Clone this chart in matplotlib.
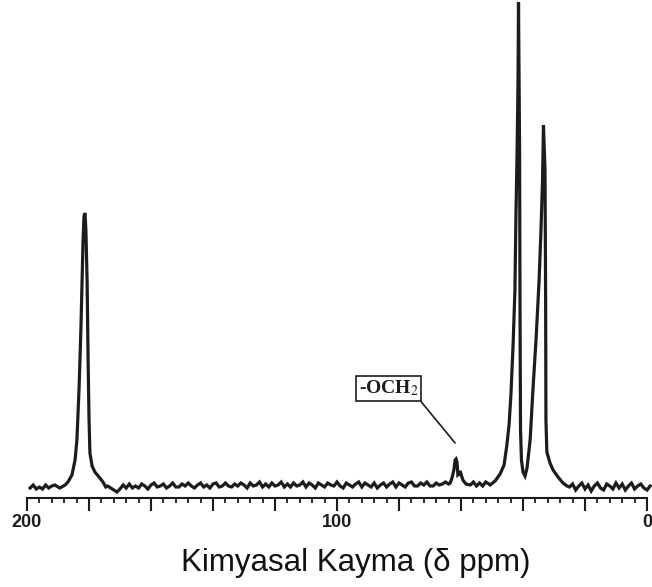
import matplotlib
matplotlib.use("Agg")
import matplotlib.pyplot as plt
import numpy as np

plt.rcParams['font.family'] = ['Liberation Sans', 'DejaVu Sans']
plt.rcParams['mathtext.fontset'] = 'stix'

INK = '#1c1c1c'

# baseline stretches, one reading per ppm going downfield -> upfield
base_1_start = 199
base_1 = [10, 13, 9, 11, 9, 13, 10, 12, 13, 11]

base_2_start = 174
base_2 = [12, 10, 8, 6, 9, 13, 10, 14, 10, 12,
          10, 14, 12, 9, 13, 15, 11, 12, 14, 10,
          12, 15, 11, 11, 14, 12, 15, 12, 10, 13,
          15, 11, 13, 10, 14, 15, 11, 12, 15, 12,
          11, 14, 12, 15, 13, 10, 15, 12, 13, 16,
          11, 14, 11, 15, 12, 13, 16, 11, 14, 11,
          15, 12, 13, 16, 11, 15, 13, 10, 15, 13,
          11, 15, 13, 12, 16, 12, 10, 15, 13, 11,
          14, 16, 11, 15, 13, 11, 15, 10, 13, 15,
          11, 14, 16, 11, 15, 13, 11, 15, 16, 12,
          12, 15, 13, 16, 12, 12, 15, 13, 14, 16, 14]

base_3_start = 57
base_3 = [13, 16, 12, 15, 12, 16, 14]

base_4_start = 25
base_4 = [11, 14, 8, 12, 15, 9, 13, 7, 12, 15, 10, 8, 14, 12,
          9, 15, 10, 14, 8, 12, 15, 9, 12, 14, 10, 8, 12]

# C=O peak
co_ppm = [189.4, 187.7, 186.8, 185.5, 184.5, 183.9, 183.2, 182.6, 182.2,
          181.9, 181.6, 181.3, 181.0, 180.6, 180.3, 180.0, 179.7, 179.0,
          178.1, 176.5, 175.5, 174.6]
co_int = [10, 13, 16, 23, 38, 58, 110, 170, 220,
          260, 282, 285, 268, 215, 140, 80, 45, 32,
          26, 20, 16, 11]

# -OCH2 peak
och2_ppm = [63.5, 62.9, 62.3, 61.9, 61.6, 61.3, 61.0, 60.6, 60.3, 60.0, 59.4, 58.4]
och2_int = [15, 20, 28, 38, 39, 36, 23, 24, 27, 24, 18, 14]

# the two aliphatic peaks
pair_ppm = [50.6, 49.0, 47.4, 46.1, 45.2, 44.5, 43.9, 43.2, 42.6, 42.3, 41.9,
            41.6, 41.45, 41.1, 40.97, 40.8, 40.5, 40.0, 39.35, 38.7, 37.7,
            36.8, 35.8, 34.8, 34.2, 33.7, 33.4, 32.9, 32.7, 32.6, 32.3, 31.3,
            30.3, 28.7, 27.1, 25.8]
pair_int = [13, 17, 24, 33, 53, 73, 103, 153, 208, 278, 348,
            418, 496, 348, 198, 68, 38, 26, 22, 30, 58,
            108, 158, 218, 268, 318, 373, 328, 198, 78, 46, 35,
            28, 21, 15, 12]

major_ticks = [200, 180, 160, 140, 120, 100, 80, 60, 40, 20, 0]
tick_labels = ['200', '', '', '', '', '100', '', '', '', '', '0']


def stretch(start, values):
    return start - np.arange(len(values)), np.array(values, float)


pieces = [
    stretch(base_1_start, base_1),
    (np.array(co_ppm), np.array(co_int, float)),
    stretch(base_2_start, base_2),
    (np.array(och2_ppm), np.array(och2_int, float)),
    stretch(base_3_start, base_3),
    (np.array(pair_ppm), np.array(pair_int, float)),
    stretch(base_4_start, base_4),
]
ppm = np.concatenate([p[0] for p in pieces])
inten = np.concatenate([p[1] for p in pieces])

fig = plt.figure(figsize=(6.52, 5.87), dpi=100)
ax = fig.add_axes([27 / 652, 89 / 587, 620 / 652, 498 / 587])

ax.plot(ppm, inten, color=INK, lw=2.3, solid_joinstyle='miter', clip_on=False)

ax.set_xlim(200, 0)
ax.set_ylim(0, 498)

for side in ('top', 'right', 'left'):
    ax.spines[side].set_visible(False)
ax.spines['bottom'].set_linewidth(1.5)
ax.spines['bottom'].set_color(INK)
ax.set_yticks([])

ax.set_xticks(major_ticks)
ax.set_xticklabels(tick_labels)
ax.set_xticks(np.arange(0, 201, 4), minor=True)
ax.tick_params(axis='x', which='major', length=9.5, width=1.5, color=INK,
               pad=2, labelsize=13)
ax.tick_params(axis='x', which='minor', length=3.6, width=1.3, color=INK)
for lbl in ax.get_xticklabels():
    lbl.set_fontweight('bold')
    lbl.set_color(INK)

ax.annotate('-OCH$_2$', xy=(61.9, 55), xytext=(83.4, 109.5),
            ha='center', va='center', fontsize=14, fontweight='bold',
            family=['Liberation Serif', 'DejaVu Serif'], color=INK,
            bbox=dict(boxstyle='square,pad=0.15', fc='white', ec=INK, lw=1.2),
            arrowprops=dict(arrowstyle='-', color=INK, lw=1.2, relpos=(1, 0),
                            shrinkA=0, shrinkB=0))

fig.text(356 / 652, 1 - 571 / 587, 'Kimyasal Kayma (δ ppm)', ha='center',
         va='baseline', fontsize=22.5, color='#111111')

fig.savefig('out.png', dpi=100)
